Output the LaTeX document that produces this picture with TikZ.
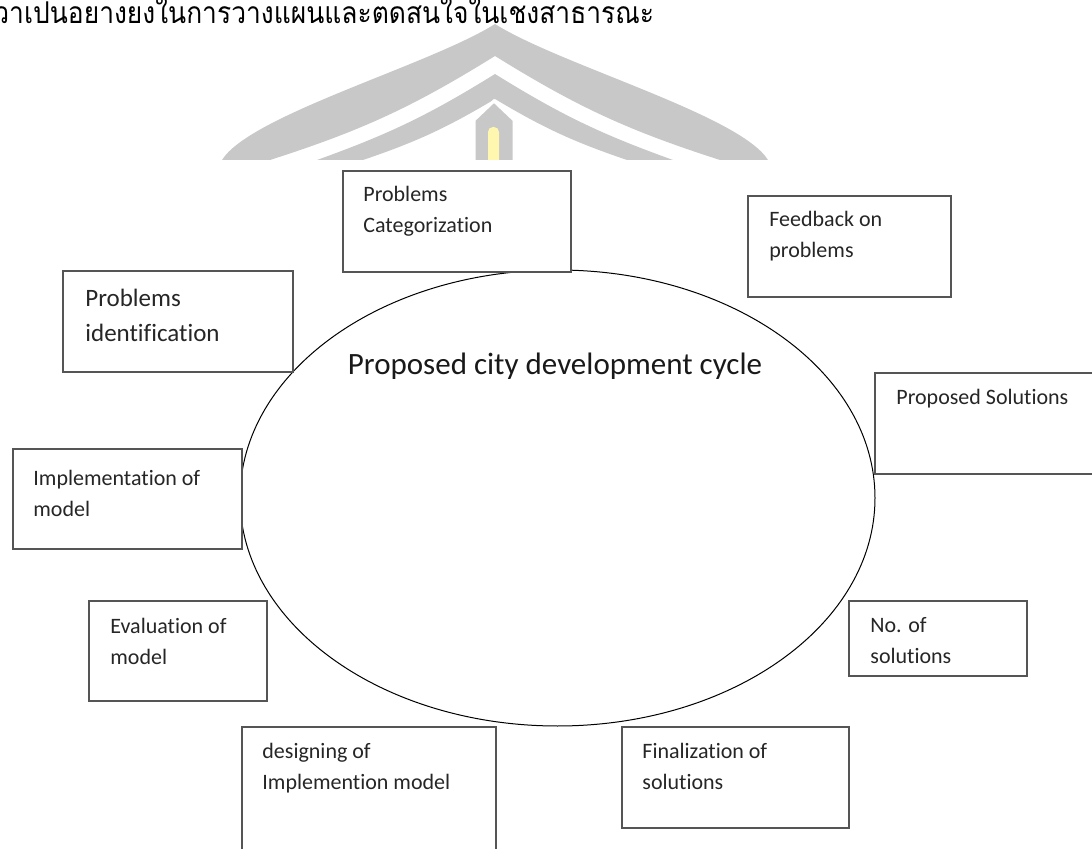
\documentclass[tikz,border=0pt]{standalone}
\usepackage{fontspec}
\setmainfont{Carlito}[Ligatures=CommonOff]
\newfontfamily\thaifont[Script=Thai, FakeStretch=0.88]{Loma}
\usetikzlibrary{shapes.geometric}
\definecolor{logogray}{RGB}{200,200,200}
\definecolor{candle}{RGB}{255,247,175}
\definecolor{boxline}{RGB}{85,85,85}

\begin{document}
\begin{tikzpicture}[x=0.5pt, y=-0.5pt,
        box/.style={draw=boxline, line width=0.8pt, fill=white, inner sep=0pt,
                    anchor=north west},
        txt/.style={font=\fontsize{11}{15.5}\selectfont, text=black!85,
                    align=left, inner sep=0pt, anchor=base west},
        txtbig/.style={txt, font=\fontsize{12.5}{17.5}\selectfont},
        band/.style={fill=logogray, draw=none},
    ]
    \useasboundingbox (0,0) rectangle (1092,849);

    % Watermark (cut off at the page break)
    \begin{scope}
        \clip (0,0) rectangle (1092,160);
        \fill[band] (222,160) .. controls (250,115) and (430,65) .. (495,24)
            .. controls (560,65) and (740,115) .. (768,160)
            -- (720,160) to[bend left=7] (495,56) to[bend left=7] (270,160) -- cycle;
        \fill[band] (317,160) to[bend right=6] (495,74) to[bend right=6] (673,160)
            -- (627,160) to[bend left=6] (495,99) to[bend left=6] (363,160) -- cycle;
        \filldraw[fill=logogray, draw=white, line width=1.5pt]
            (474,170) -- (474,120) -- (494,101) -- (514,120) -- (514,170) -- cycle;
        \fill[candle, rounded corners=2.5pt] (488,170) rectangle (499,127);
    \end{scope}

    % Heading line of the page
    \node[font=\thaifont\fontsize{15}{18}\selectfont, anchor=base west, inner sep=0pt]
        (head) at (-6,24) {วาเปนอยางยงในการวางแผนและตดสนใจในเชงสาธารณะ};

    % Cycle
    \node[ellipse, draw, line width=0.5pt, minimum width=317.5pt, minimum height=228pt,
          inner sep=0pt] (cycle) at (557.5,498) {};
    \node[font=\fontsize{15.5}{18}\selectfont, text=black!90, anchor=base] (ttl)
        at (555,375) {Proposed city development cycle};

    % Step boxes: name/left/top/width/height
    \foreach \n/\x/\y/\w/\h in {cat/342/170/228/101, fb/747/195/203/101,
            ident/62/270/230/101, psol/874/372/240/101, impl/12/448/229/100,
            eval/88/600/178/100, noof/848/600/178/75, dsgn/241/726/254/140,
            fin/621/726/227/101}
        \node[box, minimum width=\w*0.5pt, minimum height=\h*0.5pt] (\n) at (\x,\y) {};

    % Step texts (anchored on the baseline of their last line)
    \node[txt] (catT) at ([shift={(21,63)}]cat.north west) {Problems\\Categorization};
    \node[txt] (fbT) at ([shift={(22,63)}]fb.north west) {Feedback on\\problems};
    \node[txtbig] (identT) at ([shift={(23,72)}]ident.north west) {Problems\\identification};
    \node[txt] (psolT) at ([shift={(22,33)}]psol.north west) {Proposed Solutions};
    \node[txt] (implT) at ([shift={(21,69)}]impl.north west) {Implementation of\\model};
    \node[txt] (evalT) at ([shift={(22,64)}]eval.north west) {Evaluation of\\model};
    \node[txt] (noofT) at ([shift={(22,63)}]noof.north west) {No. of\\solutions};
    \node[txt] (dsgnT) at ([shift={(21,63)}]dsgn.north west) {designing of\\Implemention model};
    \node[txt] (finT) at ([shift={(21,63)}]fin.north west) {Finalization of\\solutions};
\end{tikzpicture}
\end{document}
